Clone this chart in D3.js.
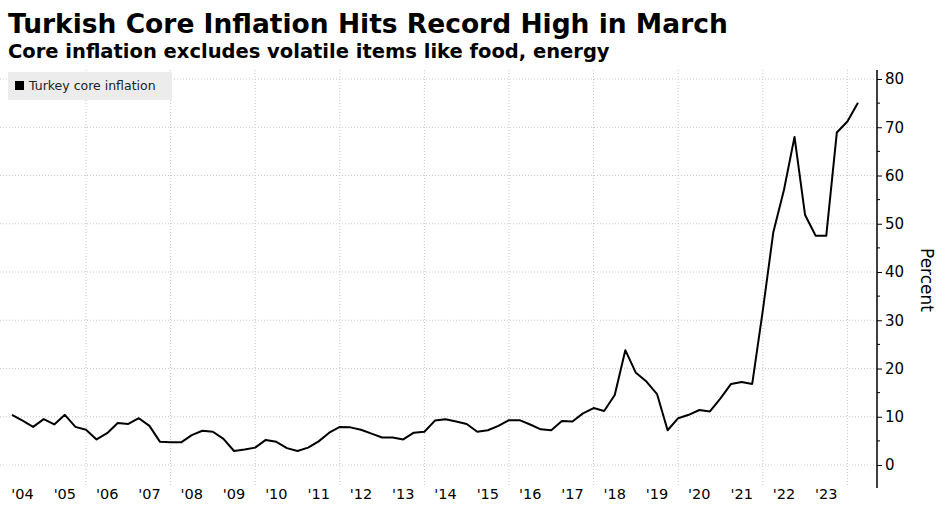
<!DOCTYPE html>
<html><head><meta charset="utf-8">
<script src="https://cdn.jsdelivr.net/npm/d3@7"></script>
<style>
body{margin:0;background:#fff;font-family:"DejaVu Sans",sans-serif;}
</style></head>
<body><svg id="chart" width="944" height="505"></svg>
<script>
// quarterly readings, Q2 2004 .. Q2 2024
const startYear = 2004.25;
const coreInflation = [
  10.4, 9.2, 7.9, 9.5, 8.4, 10.4, 7.9, 7.3, 5.3, 6.6, 8.7, 8.5, 9.7, 8.1, 4.8, 4.7,
  4.7, 6.2, 7.1, 6.9, 5.4, 2.9, 3.2, 3.6, 5.2, 4.8, 3.5, 2.9, 3.6, 4.9, 6.7, 7.9,
  7.8, 7.3, 6.5, 5.7, 5.7, 5.3, 6.7, 6.9, 9.2, 9.5, 9.0, 8.5, 6.9, 7.2, 8.1, 9.3,
  9.3, 8.4, 7.4, 7.2, 9.1, 9.0, 10.7, 11.8, 11.2, 14.5, 23.8, 19.1, 17.3, 14.7, 7.2, 9.7,
  10.4, 11.4, 11.1, 13.8, 16.8, 17.2, 16.8, 32, 48.3, 57, 68, 51.8, 47.5, 47.5, 68.9, 71.2,
  75.1
];
const yearLabels = d3.range(2004, 2024);
const gridYears = d3.range(2006, 2025, 2);
const yTicks = d3.range(0, 81, 10);

const svg = d3.select("#chart");
const x = d3.scaleLinear().domain([2004, 2024.7]).range([1.4, 877]);
const y = d3.scaleLinear().domain([0, 80]).range([465, 79]);

svg.append("text").attr("x", 8).attr("y", 33)
  .attr("font-size", 26.5).attr("font-weight", "bold").attr("fill", "#000")
  .text("Turkish Core Inflation Hits Record High in March");
svg.append("text").attr("x", 8).attr("y", 58)
  .attr("font-size", 19.5).attr("font-weight", "bold").attr("fill", "#000")
  .text("Core inflation excludes volatile items like food, energy");

const grid = svg.append("g").attr("stroke", "#c8c8c8").attr("stroke-dasharray", "1,2");
grid.selectAll(".h").data(yTicks).join("line")
  .attr("x1", 0).attr("x2", 877).attr("y1", d => y(d)).attr("y2", d => y(d));
grid.selectAll(".v").data(gridYears).join("line")
  .attr("x1", d => x(d)).attr("x2", d => x(d)).attr("y1", 70).attr("y2", 485);

// x labels at mid-year
svg.append("g").selectAll("text").data(yearLabels).join("text")
  .attr("x", d => x(d + 0.5)).attr("y", 499).attr("text-anchor", "middle")
  .attr("font-size", 14.5).attr("fill", "#000")
  .text(d => "'" + String(d).slice(2));

// right axis
const yAxis = svg.append("g").attr("transform", "translate(877,0)")
  .call(d3.axisRight(y).tickValues(yTicks).tickSize(5).tickPadding(3));
yAxis.select(".domain").remove();
yAxis.selectAll("text").attr("font-size", 15).attr("font-family", "DejaVu Sans").attr("fill", "#000");
yAxis.selectAll("line").attr("stroke", "#000");
svg.append("g").attr("stroke", "#000").selectAll("line").data(d3.range(5, 80, 10)).join("line")
  .attr("x1", 877).attr("x2", 880).attr("y1", d => y(d)).attr("y2", d => y(d));
svg.append("line").attr("x1", 877).attr("x2", 877).attr("y1", 70).attr("y2", 488)
  .attr("stroke", "#000").attr("stroke-width", 1.5);
svg.append("text").attr("transform", "translate(921,280) rotate(90)")
  .attr("text-anchor", "middle").attr("font-size", 17).attr("fill", "#000").text("Percent");

// legend
svg.append("rect").attr("x", 8).attr("y", 72).attr("width", 164).attr("height", 28).attr("fill", "#ececec");
svg.append("rect").attr("x", 15).attr("y", 81).attr("width", 9).attr("height", 9).attr("fill", "#000");
svg.append("text").attr("x", 29).attr("y", 90).attr("font-size", 12.5).attr("fill", "#222")
  .text("Turkey core inflation");

const line = d3.line().x((d, i) => x(startYear + i * 0.25)).y(d => y(d));
svg.append("path").datum(coreInflation).attr("d", line)
  .attr("fill", "none").attr("stroke", "#000").attr("stroke-width", 2).attr("stroke-linejoin", "round");
</script></body></html>
